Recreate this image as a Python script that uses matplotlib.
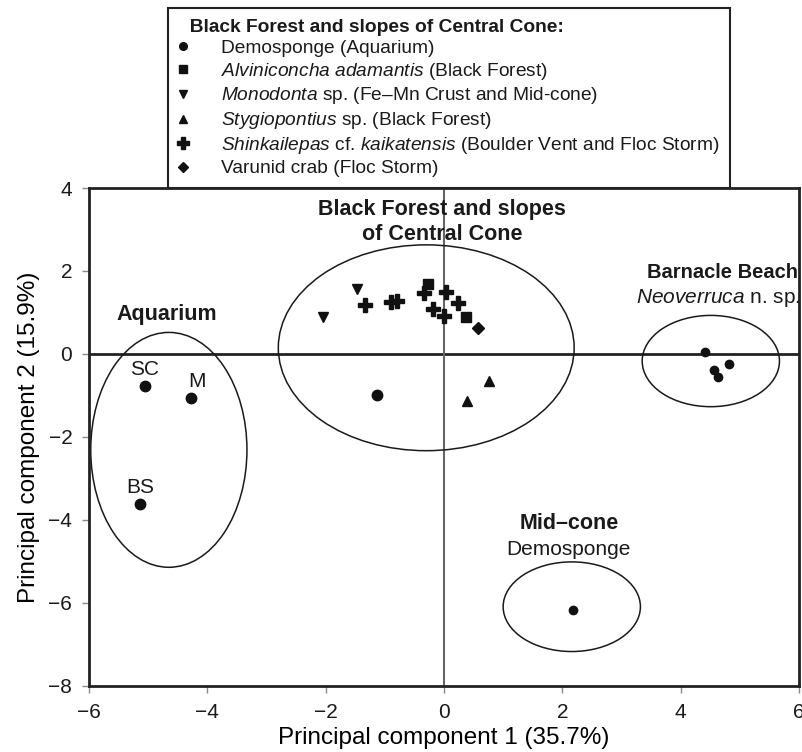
import matplotlib
matplotlib.use("Agg")
import matplotlib.pyplot as plt
from matplotlib.patches import Ellipse
from matplotlib.lines import Line2D

plt.rcParams['font.family'] = ['Liberation Sans', 'DejaVu Sans']
plt.rcParams['mathtext.fontset'] = 'custom'
plt.rcParams['mathtext.rm'] = 'Liberation Sans'
plt.rcParams['mathtext.it'] = 'Liberation Sans:italic'
plt.rcParams['text.color'] = '#1a1a1a'

# --------------------------
# PCA scores (PC1, PC2)
# --------------------------
# Demosponge, Aquarium (SC, M, BS)
aq_names = ['SC', 'M', 'BS']
aq_x = [-5.06, -4.27, -5.14]
aq_y = [-0.78, -1.06, -3.61]

# Black Forest and slopes of Central Cone
demo_bf_x = [-1.13]
demo_bf_y = [-0.99]
alvin_x = [-0.27, 0.37]
alvin_y = [1.68, 0.88]
monodonta_x = [-1.47, -2.04]
monodonta_y = [1.56, 0.90]
stygio_x = [0.76, 0.39]
stygio_y = [-0.64, -1.14]
shink_x = [-1.34, -0.90, -0.79, -0.33, 0.03, -0.19, 0.24, 0.00]
shink_y = [1.18, 1.25, 1.27, 1.46, 1.50, 1.08, 1.23, 0.91]
crab_x = [0.57]
crab_y = [0.62]

# Barnacle Beach, Neoverruca n. sp.
barn_x = [4.41, 4.81, 4.57, 4.63]
barn_y = [0.06, -0.25, -0.39, -0.56]

# Mid-cone demosponge
mid_x = [2.18]
mid_y = [-6.17]

# group ellipses: centre x, centre y, width, height
ell_cx = [-4.65, -0.30, 4.51, 2.16]
ell_cy = [-2.31, 0.15, -0.17, -6.09]
ell_w = [2.64, 5.00, 2.32, 2.32]
ell_h = [5.66, 4.96, 2.20, 2.16]

legend_labels = [
    'Demosponge (Aquarium)',
    r'$\it{Alviniconcha\ adamantis}$ (Black Forest)',
    r'$\it{Monodonta}$ sp. (Fe–Mn Crust and Mid-cone)',
    r'$\it{Stygiopontius}$ sp. (Black Forest)',
    r'$\it{Shinkailepas}$ cf. $\it{kaikatensis}$ (Boulder Vent and Floc Storm)',
    'Varunid crab (Floc Storm)',
]

# --------------------------
# Figure
# --------------------------
fig = plt.figure(figsize=(8.03, 7.52), dpi=100)
ax = fig.add_axes([0.1108, 0.0878, 0.8842, 0.6622])

ax.set_xlim(-6, 6)
ax.set_ylim(-8, 4)
ax.set_xticks(range(-6, 7, 2))
ax.set_yticks(range(-8, 5, 2))
ax.tick_params(direction='out', length=5, width=1, color='#888888',
               labelsize=15, pad=7, labelcolor='#1a1a1a')
for s in ax.spines.values():
    s.set_linewidth(2)
    s.set_color('#222222')

ax.axhline(0, color='#222222', lw=2, zorder=1)
ax.axvline(0, color='#666666', lw=1.5, zorder=1)

for cx, cy, w, h in zip(ell_cx, ell_cy, ell_w, ell_h):
    ax.add_patch(Ellipse((cx, cy), w, h, fill=False, ec='#1a1a1a', lw=1.1, zorder=2))

k = '#111111'
ax.plot(aq_x, aq_y, 'o', color=k, ms=7.5, zorder=3)
ax.plot(demo_bf_x, demo_bf_y, 'o', color=k, ms=7.5, zorder=3)
ax.plot(alvin_x, alvin_y, 's', color=k, ms=7, zorder=3)
ax.plot(monodonta_x, monodonta_y, 'v', color=k, ms=7.5, zorder=3)
ax.plot(stygio_x, stygio_y, '^', color=k, ms=7.5, zorder=3)
ax.plot(shink_x, shink_y, 'P', color=k, ms=9.5, zorder=3)
ax.plot(crab_x, crab_y, 'D', color=k, ms=6.5, zorder=3)
ax.plot(barn_x, barn_y, 'o', color=k, ms=6, zorder=3)
ax.plot(mid_x, mid_y, 'o', color=k, ms=6, zorder=3)

# sample names for the aquarium sponges
for name, x, y in zip(aq_names, aq_x, aq_y):
    dx = 0.1 if name == 'M' else 0.0
    ax.text(x + dx, y + 0.40, name, ha='center', va='center', fontsize=15)

# group labels
ax.text(-4.68, 0.94, 'Aquarium', ha='center', va='center', fontsize=15.5, fontweight='bold')
ax.text(-0.03, 3.48, 'Black Forest and slopes', ha='center', va='center',
        fontsize=15.5, fontweight='bold')
ax.text(-0.03, 2.88, 'of Central Cone', ha='center', va='center',
        fontsize=15.5, fontweight='bold')
ax.text(4.70, 1.97, 'Barnacle Beach', ha='center', va='center', fontsize=14.5, fontweight='bold')
ax.text(4.63, 1.35, r'$\it{Neoverruca}$ n. sp.', ha='center', va='center', fontsize=15)
ax.text(2.11, -4.09, 'Mid–cone', ha='center', va='center', fontsize=15.5, fontweight='bold')
ax.text(2.11, -4.71, 'Demosponge', ha='center', va='center', fontsize=15)

ax.set_xlabel('Principal component 1 (35.7%)', fontsize=17.5, labelpad=4)
ax.set_ylabel('Principal component 2 (15.9%)', fontsize=17.5, labelpad=6)

# --------------------------
# Legend above the axes
# --------------------------
handles = [
    Line2D([], [], ls='none', marker='o', color=k, ms=5.5),
    Line2D([], [], ls='none', marker='s', color=k, ms=6),
    Line2D([], [], ls='none', marker='v', color=k, ms=6),
    Line2D([], [], ls='none', marker='^', color=k, ms=6),
    Line2D([], [], ls='none', marker='P', color=k, ms=8),
    Line2D([], [], ls='none', marker='D', color=k, ms=5.5),
]
leg = ax.legend(handles, legend_labels, loc='upper left',
                bbox_to_anchor=(168 / 803, 1 - 8 / 752), bbox_transform=fig.transFigure,
                borderaxespad=0, borderpad=0.55, handlelength=0.5, handletextpad=1.7,
                labelspacing=0.2, fontsize=13.8, fancybox=False, framealpha=1,
                edgecolor='#222222', alignment='left',
                title='  Black Forest and slopes of Central Cone:',
                title_fontproperties={'weight': 'bold', 'size': 13.8})
leg.get_frame().set_linewidth(1.5)

fig.savefig('out.png', dpi=100)
